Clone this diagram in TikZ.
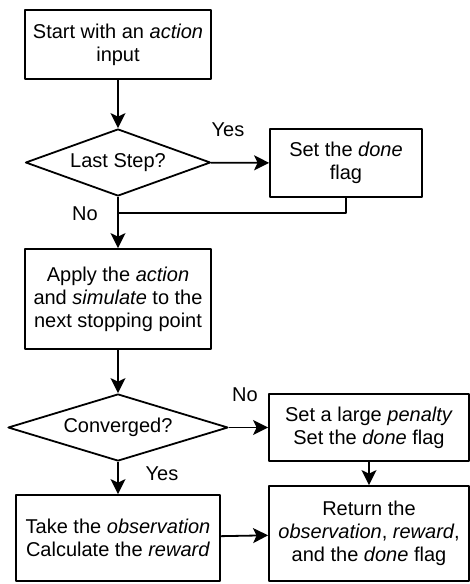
\documentclass[tikz,border=0pt]{standalone}
\usepackage{fontspec}
\setmainfont{Liberation Sans}
\usetikzlibrary{shapes.geometric,arrows.meta}
\begin{document}
\begin{tikzpicture}[x=1pt, y=-1pt, line join=round, >={Stealth[length=15pt,width=15pt,inset=3.5pt]},
	font=\fontsize{20}{23}\selectfont,
	box/.style={draw, line width=1.8pt, inner sep=0pt, align=center},
	test/.style={draw, diamond, line width=1.8pt, inner sep=0pt},
	flow/.style={->, line width=1.8pt}]
	\useasboundingbox (0,0) rectangle (470,584);
	
	% Blöcke
	\node[box, minimum width=186pt, minimum height=69pt] (start) at (118,44.5) {Start with an \textit{action}\\input};
	\node[test, aspect=2.76, minimum width=185pt, minimum height=67pt] (last) at (118,162.5) {Last Step?};
	\node[box, minimum width=152pt, minimum height=68pt] (done) at (346,163) {Set the \textit{done}\\flag};
	\node[box, minimum width=186pt, minimum height=100pt] (apply) at (118,299) {Apply the \textit{action}\\and \textit{simulate} to the\\next stopping point};
	\node[test, aspect=3.28, minimum width=220pt, minimum height=67pt] (conv) at (118,427.5) {Converged?};
	\node[box, minimum width=200pt, minimum height=67pt] (penalty) at (369,427.5) {Set a large \textit{penalty}\\Set the \textit{done} flag};
	\node[box, minimum width=204pt, minimum height=86pt] (observe) at (118,538) {Take the \textit{observation}\\Calculate the \textit{reward}};
	\node[box, minimum width=200pt, minimum height=95pt] (return) at (369,533.5) {Return the\\\textit{observation}, \textit{reward},\\and the \textit{done} flag};
	\coordinate (merge) at (118,213);
	
	% Verbindungen
	\draw[flow] (start) -- (last);
	\draw[flow] (last) -- (done);
	\draw[flow] (last) -- (apply);
	\draw[line width=1.8pt] (done.south) |- (merge);
	\draw[flow] (apply) -- (conv);
	\draw[flow] (conv) -- (penalty);
	\draw[flow] (conv) -- (observe);
	\draw[flow] (penalty) -- (return);
	\draw[flow] (observe) -- (return);
	
	% Beschriftungen
	\node (yes1) at (228,130) {Yes};
	\node (no1) at (85,214) {No};
	\node (no2) at (245,395) {No};
	\node (yes2) at (162,474) {Yes};
\end{tikzpicture}
\end{document}
